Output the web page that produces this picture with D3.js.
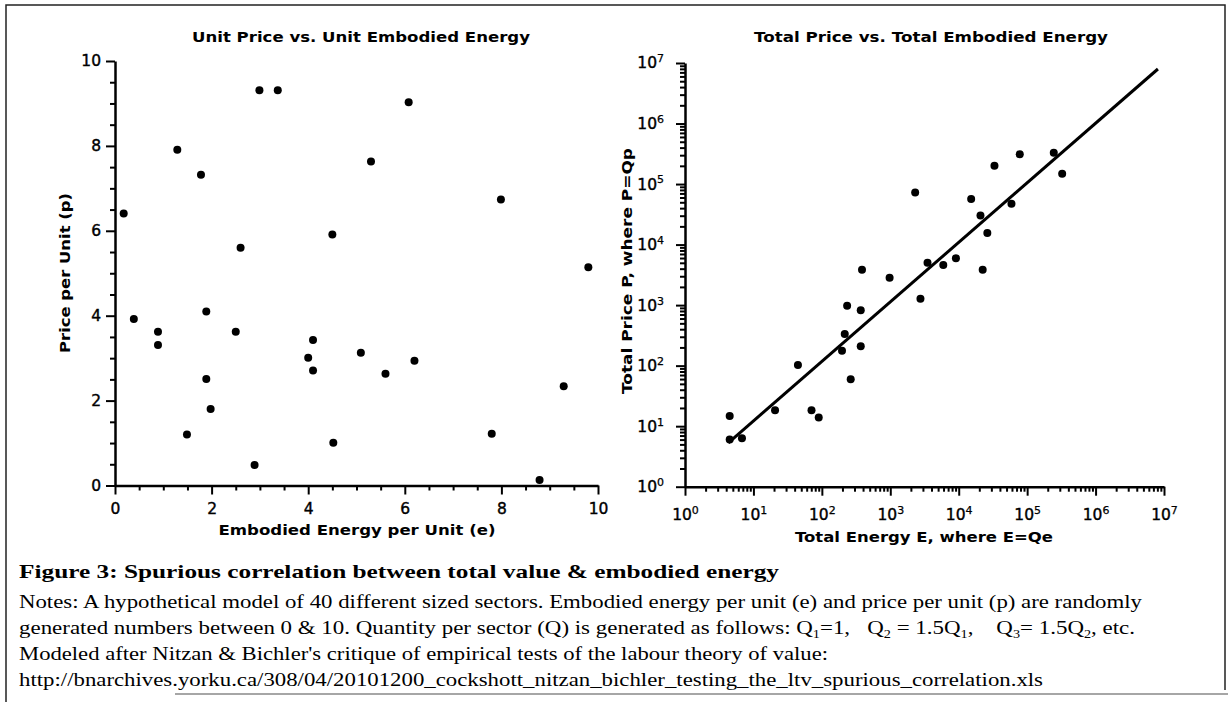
<!DOCTYPE html>
<html>
<head>
<meta charset="utf-8">
<script src="https://cdn.jsdelivr.net/npm/d3@7"></script>
<style>
  body { margin: 0; background: #fff; }
  svg { display: block; }
  .tick text { font-family: "DejaVu Sans", sans-serif; font-size: 15.5px; fill: #000; stroke: #000; stroke-width: 0.4px; }
  .lbl { font-family: "DejaVu Sans", sans-serif; font-weight: bold; font-size: 14px; fill: #000; }
  .cap { font-family: "Liberation Serif", "Times New Roman", serif; fill: #000; white-space: pre; }
</style>
</head>
<body>
<div id="chart"></div>
<script>
// left panel: per-unit values
const unitEnergy = [0.18, 0.39, 0.89, 0.89, 1.29, 1.78, 1.89, 1.89, 1.49, 1.98, 2.6, 2.5, 2.89, 2.99, 3.37,
  4.0, 4.1, 4.1, 4.5, 4.52, 5.09, 5.3, 5.6, 6.08, 6.2, 7.8, 7.99, 8.79, 9.29, 9.8];
const unitPrice = [6.41, 3.92, 3.62, 3.31, 7.91, 7.32, 4.1, 2.51, 1.2, 1.8, 5.6, 3.62, 0.48, 9.31, 9.31,
  3.01, 3.43, 2.71, 5.91, 1.01, 3.13, 7.63, 2.63, 9.03, 2.94, 1.22, 6.74, 0.13, 2.34, 5.14];

// right panel: totals
const totalEnergy = [4.5, 4.5, 6.8, 20.7, 44.7, 70.6, 90, 197, 216, 234, 264, 370, 370, 386, 977,
  2310, 2760, 3500, 5950, 9100, 15200, 20800, 22400, 26200, 33300, 59000, 78000, 245000, 325000];
const totalPrice = [14.7, 6.0, 6.3, 18.4, 102, 18.4, 13.9, 177, 332, 973, 59.7, 210, 820, 3830, 2820,
  72800, 1270, 5010, 4580, 5930, 56500, 30300, 3850, 15500, 201000, 47200, 311000, 328000, 148000];

// fitted line end points
const fitEnergy = [4.3, 8.15e6];
const fitPrice = [5.3, 7.96e6];

const unitTicks = [0, 2, 4, 6, 8, 10];
const unitMinor = [0.5, 1, 1.5, 2.5, 3, 3.5, 4.5, 5, 5.5, 6.5, 7, 7.5, 8.5, 9, 9.5];
const logTicks = [1, 1e1, 1e2, 1e3, 1e4, 1e5, 1e6, 1e7];

const width = 1228;
const height = 702;

const svg = d3
  .select("#chart")
  .append("svg")
  .attr("width", width)
  .attr("height", height)
  .style("background", "#fff");

// figure frame
svg.append("path")
  .attr("d", "M6,702 V5 H1225 V690")
  .attr("fill", "none")
  .attr("stroke", "#222")
  .attr("stroke-width", 1.5);
svg.append("path")
  .attr("d", "M175,694 H1228")
  .attr("fill", "none")
  .attr("stroke", "#888")
  .attr("stroke-width", 1.5);

function styleAxis(g) {
  g.select(".domain").attr("stroke", "#000").attr("stroke-width", 2.5);
  g.selectAll(".tick line").attr("stroke", "#000").attr("stroke-width", 2);
}

function addLabel(x, y, txt, len, rotate) {
  svg.append("text")
    .attr("class", "lbl")
    .attr("text-anchor", "middle")
    .attr("transform", "translate(" + x + "," + y + ")" + (rotate ? " rotate(-90)" : ""))
    .attr("textLength", len)
    .attr("lengthAdjust", "spacingAndGlyphs")
    .text(txt);
}

// ---------- left panel ----------
const xUnit = d3.scaleLinear().domain([0, 10]).range([115, 598]);
const yUnit = d3.scaleLinear().domain([0, 10]).range([485.5, 61]);

svg.append("g")
  .attr("transform", "translate(0,485.5)")
  .call(d3.axisBottom(xUnit).tickValues(unitMinor).tickSize(5).tickFormat(""))
  .call(styleAxis)
  .call((g) => g.select(".domain").remove());
svg.append("g")
  .attr("transform", "translate(115,0)")
  .call(d3.axisLeft(yUnit).tickValues(unitMinor).tickSize(5).tickFormat(""))
  .call(styleAxis)
  .call((g) => g.select(".domain").remove());

svg.append("g")
  .attr("transform", "translate(0,485.5)")
  .call(d3.axisBottom(xUnit).tickValues(unitTicks).tickSize(9).tickSizeOuter(0).tickPadding(8).tickFormat(d3.format("d")))
  .call(styleAxis);
svg.append("g")
  .attr("transform", "translate(115,0)")
  .call(d3.axisLeft(yUnit).tickValues(unitTicks).tickSize(9).tickSizeOuter(0).tickPadding(5).tickFormat(d3.format("d")))
  .call(styleAxis);

svg.append("g")
  .selectAll("circle")
  .data(unitEnergy)
  .enter()
  .append("circle")
  .attr("cx", (d) => xUnit(d))
  .attr("cy", (d, i) => yUnit(unitPrice[i]))
  .attr("r", 4)
  .attr("fill", "#000");

addLabel(361, 42, "Unit Price vs. Unit Embodied Energy", 338, false);
addLabel(357, 535, "Embodied Energy per Unit (e)", 277, false);
addLabel(70, 273, "Price per Unit (p)", 160, true);

// ---------- right panel ----------
const xTotal = d3.scaleLog().domain([1, 1e7]).range([685, 1164]);
const yTotal = d3.scaleLog().domain([1, 1e7]).range([486.7, 63]);

const logMinor = xTotal.ticks().filter((d) => !logTicks.includes(d));

svg.append("g")
  .attr("transform", "translate(0,486.7)")
  .call(d3.axisBottom(xTotal).tickValues(logMinor).tickSize(5).tickFormat(""))
  .call(styleAxis)
  .call((g) => g.select(".domain").remove());
svg.append("g")
  .attr("transform", "translate(685,0)")
  .call(d3.axisLeft(yTotal).tickValues(logMinor).tickSize(5).tickFormat(""))
  .call(styleAxis)
  .call((g) => g.select(".domain").remove());

function powerLabel(text) {
  text.each(function (d) {
    const t = d3.select(this);
    t.text("10");
    t.append("tspan")
      .attr("dy", "-0.55em")
      .style("font-size", "11px")
      .style("stroke-width", "0.25px")
      .text(Math.round(Math.log10(d)));
  });
}

svg.append("g")
  .attr("transform", "translate(0,486.7)")
  .call(d3.axisBottom(xTotal).tickValues(logTicks).tickSize(9).tickSizeOuter(0).tickPadding(13))
  .call(styleAxis)
  .call((g) => g.selectAll(".tick text").call(powerLabel));
svg.append("g")
  .attr("transform", "translate(685,0)")
  .call(d3.axisLeft(yTotal).tickValues(logTicks).tickSize(9).tickSizeOuter(0).tickPadding(12))
  .call(styleAxis)
  .call((g) => g.selectAll(".tick text").call(powerLabel));

svg.append("path")
  .datum(fitEnergy.map((e, i) => [e, fitPrice[i]]))
  .attr("fill", "none")
  .attr("stroke", "#000")
  .attr("stroke-width", 3)
  .attr("d", d3.line().x((d) => xTotal(d[0])).y((d) => yTotal(d[1])));

svg.append("g")
  .selectAll("circle")
  .data(totalEnergy)
  .enter()
  .append("circle")
  .attr("cx", (d) => xTotal(d))
  .attr("cy", (d, i) => yTotal(totalPrice[i]))
  .attr("r", 4)
  .attr("fill", "#000");

addLabel(931, 42, "Total Price vs. Total Embodied Energy", 354, false);
addLabel(924, 542, "Total Energy E, where E=Qe", 258, false);
addLabel(632, 271, "Total Price P, where P=Qp", 246, true);

// ---------- caption ----------
const capX = 19;

svg.append("text")
  .attr("class", "cap")
  .attr("x", capX)
  .attr("y", 578)
  .attr("font-size", 19.5)
  .attr("font-weight", "bold")
  .attr("textLength", 760)
  .attr("lengthAdjust", "spacingAndGlyphs")
  .text("Figure 3: Spurious correlation between total value & embodied energy");

const notes = [
  "Notes: A hypothetical model of 40 different sized sectors. Embodied energy per unit (e) and price per unit (p) are randomly",
  null,
  "Modeled after Nitzan & Bichler's critique of empirical tests of the labour theory of value:",
  "http://bnarchives.yorku.ca/308/04/20101200_cockshott_nitzan_bichler_testing_the_ltv_spurious_correlation.xls"
];
const noteWidths = [1123, 1116, 809, 1024];
const noteBase = [608, 634, 660, 686];

notes.forEach((line, i) => {
  const t = svg.append("text")
    .attr("class", "cap")
    .attr("x", capX)
    .attr("y", noteBase[i])
    .attr("font-size", 18.5)
    .attr("textLength", noteWidths[i])
    .attr("lengthAdjust", "spacingAndGlyphs");
  if (line) {
    t.text(line);
    return;
  }
  // line with subscripts
  const parts = [
    ["generated numbers between 0 & 10. Quantity per sector (Q) is generated as follows: Q", false],
    ["1", true], ["=1,   Q", false], ["2", true], [" = 1.5Q", false], ["1", true],
    [",    Q", false], ["3", true], ["= 1.5Q", false], ["2", true], [", etc.", false]
  ];
  let low = false;
  parts.forEach(([s, sub]) => {
    const sp = t.append("tspan").text(s);
    if (sub) sp.style("font-size", "11.5px");
    if (sub !== low) sp.attr("dy", sub ? 4 : -4);
    low = sub;
  });
});
</script>
</body>
</html>
